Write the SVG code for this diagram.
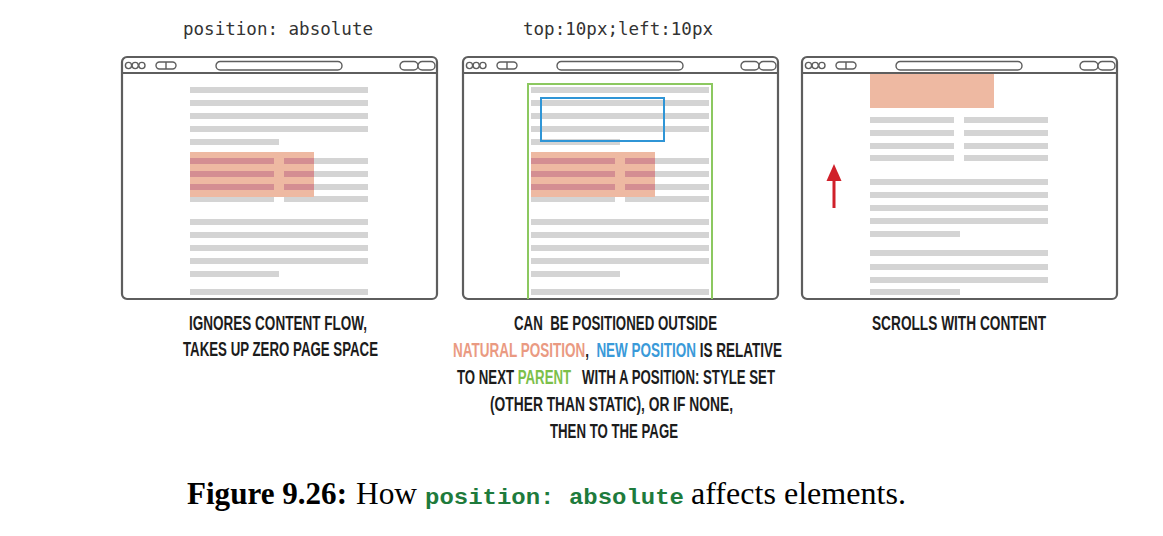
<svg xmlns="http://www.w3.org/2000/svg" xmlns:xlink="http://www.w3.org/1999/xlink" width="1163" height="536" viewBox="0 0 1163 536">
  <style>
    .frame { fill: #ffffff; stroke: #5e5e5e; stroke-width: 2.2; }
    .ctl { fill: #ffffff; stroke: #5e5e5e; stroke-width: 1.4; }
    .bar { stroke: #5e5e5e; stroke-width: 1.8; }
    .ln { fill: #d4d4d4; }
    .hl { fill: #eeb9a2; }
    .ov { fill: #d48e92; }
    .mono { font-family: "DejaVu Sans Mono", "Liberation Mono", monospace; font-size: 17px; fill: #333333; }
    .cap { font-family: "Liberation Sans Narrow", "Liberation Sans", sans-serif; font-weight: bold; font-size: 20px; fill: #1c1c1c; white-space: pre; }
    .natural { fill: #ea9a82; }
    .newpos { fill: #3a9ad9; }
    .parent { fill: #7cc04a; }
    .serif { font-family: "Liberation Serif", serif; font-size: 32px; fill: #000000; }
    .code { font-family: "Liberation Mono", monospace; font-weight: bold; font-size: 22px; fill: #1e7b3c; }
  </style>
  <defs>
    <!-- browser window chrome, 315 x 242 -->
    <g id="chrome">
      <rect class="frame" x="0" y="0" width="315" height="242" rx="5"/>
      <line class="bar" x1="0" y1="16" x2="315" y2="16"/>
      <circle class="ctl" cx="6.5" cy="8.5" r="3.1"/>
      <circle class="ctl" cx="13.2" cy="8.5" r="3.1"/>
      <circle class="ctl" cx="19.9" cy="8.5" r="3.1"/>
      <rect class="ctl" x="34" y="5" width="20" height="7" rx="3.5"/>
      <line class="ctl" x1="44" y1="5" x2="44" y2="12"/>
      <rect class="ctl" x="94" y="4.5" width="126" height="8.5" rx="4.2"/>
      <rect class="ctl" x="278" y="4.5" width="18" height="8.5" rx="4.2"/>
      <rect class="ctl" x="296" y="4.5" width="17" height="8.5" rx="4.2"/>
    </g>
    <!-- page text with an absolutely positioned box over it -->
    <g id="page-flow">
      <rect class="ln" x="68" y="30" width="178" height="6"/>
      <rect class="ln" x="68" y="43" width="178" height="6"/>
      <rect class="ln" x="68" y="56" width="178" height="6"/>
      <rect class="ln" x="68" y="69" width="178" height="6"/>
      <rect class="ln" x="68" y="82" width="89" height="6"/>
      <rect class="ln" x="68" y="101" width="84" height="6"/>
      <rect class="ln" x="162" y="101" width="84" height="6"/>
      <rect class="ln" x="68" y="114" width="84" height="6"/>
      <rect class="ln" x="162" y="114" width="84" height="6"/>
      <rect class="ln" x="68" y="127" width="84" height="6"/>
      <rect class="ln" x="162" y="127" width="84" height="6"/>
      <rect class="ln" x="68" y="139" width="84" height="6"/>
      <rect class="ln" x="162" y="139" width="84" height="6"/>
      <rect class="ln" x="68" y="162" width="178" height="6"/>
      <rect class="ln" x="68" y="175" width="178" height="6"/>
      <rect class="ln" x="68" y="188" width="178" height="6"/>
      <rect class="ln" x="68" y="201" width="178" height="6"/>
      <rect class="ln" x="68" y="214" width="89" height="6"/>
      <rect class="ln" x="68" y="232" width="178" height="6"/>
      <rect class="hl" x="68" y="95" width="124" height="45"/>
      <rect class="ov" x="68" y="101" width="84" height="6"/>
      <rect class="ov" x="162" y="101" width="30" height="6"/>
      <rect class="ov" x="68" y="114" width="84" height="6"/>
      <rect class="ov" x="162" y="114" width="30" height="6"/>
      <rect class="ov" x="68" y="127" width="84" height="6"/>
      <rect class="ov" x="162" y="127" width="30" height="6"/>
    </g>
  </defs>

  <!-- column headings -->
  <text id="label-position" class="mono" x="278" y="35" text-anchor="middle" textLength="190" lengthAdjust="spacingAndGlyphs">position: absolute</text>
  <text id="label-offsets" class="mono" x="618" y="35" text-anchor="middle" textLength="190" lengthAdjust="spacingAndGlyphs">top:10px;left:10px</text>

  <!-- window 1: absolute box ignores flow -->
  <g id="window-flow" transform="translate(122,57)">
    <use xlink:href="#chrome"/>
    <use xlink:href="#page-flow"/>
  </g>

  <!-- window 2: offset relative to positioned parent -->
  <g id="window-parent" transform="translate(463,57)">
    <use xlink:href="#chrome"/>
    <use xlink:href="#page-flow"/>
    <path id="parent-box" d="M65,242 V27 H249 V242" fill="none" stroke="#8cc860" stroke-width="2"/>
    <rect id="new-position" x="78" y="41" width="123" height="43" fill="none" stroke="#2f95d6" stroke-width="2"/>
  </g>

  <!-- window 3: box scrolls with the page -->
  <g id="window-scroll" transform="translate(802,57)">
    <use xlink:href="#chrome"/>
    <rect class="hl" x="68" y="17" width="124" height="34"/>
    <rect class="ln" x="68" y="60" width="84" height="6"/>
    <rect class="ln" x="162" y="60" width="84" height="6"/>
    <rect class="ln" x="68" y="73" width="84" height="6"/>
    <rect class="ln" x="162" y="73" width="84" height="6"/>
    <rect class="ln" x="68" y="86" width="84" height="6"/>
    <rect class="ln" x="162" y="86" width="84" height="6"/>
    <rect class="ln" x="68" y="98" width="84" height="6"/>
    <rect class="ln" x="162" y="98" width="84" height="6"/>
    <rect class="ln" x="68" y="122" width="178" height="6"/>
    <rect class="ln" x="68" y="135" width="178" height="6"/>
    <rect class="ln" x="68" y="148" width="178" height="6"/>
    <rect class="ln" x="68" y="161" width="178" height="6"/>
    <rect class="ln" x="68" y="174" width="90" height="6"/>
    <rect class="ln" x="68" y="193" width="178" height="6"/>
    <rect class="ln" x="68" y="207" width="178" height="6"/>
    <rect class="ln" x="68" y="220" width="178" height="6"/>
    <rect class="ln" x="68" y="232" width="90" height="6"/>
    <!-- scroll direction -->
    <rect x="30.5" y="121" width="3" height="30" fill="#d0202a"/>
    <polygon points="24.5,124 32,107 39.5,124" fill="#d0202a"/>
  </g>

  <!-- captions -->
  <g id="caption-flow">
    <text class="cap" x="189" y="330" textLength="178" lengthAdjust="spacingAndGlyphs">IGNORES CONTENT FLOW,</text>
    <text class="cap" x="183" y="356" textLength="195" lengthAdjust="spacingAndGlyphs">TAKES UP ZERO PAGE SPACE</text>
  </g>
  <g id="caption-parent">
    <text class="cap" x="514" y="330" textLength="203" lengthAdjust="spacingAndGlyphs">CAN  BE POSITIONED OUTSIDE</text>
    <text class="cap" x="453" y="357" textLength="329" lengthAdjust="spacingAndGlyphs"><tspan class="natural">NATURAL POSITION</tspan>,  <tspan class="newpos">NEW POSITION</tspan> IS RELATIVE</text>
    <text class="cap" x="457" y="384" textLength="318" lengthAdjust="spacingAndGlyphs">TO NEXT <tspan class="parent">PARENT</tspan>   WITH A POSITION: STYLE SET</text>
    <text class="cap" x="490" y="411" textLength="243" lengthAdjust="spacingAndGlyphs">(OTHER THAN STATIC), OR IF NONE,</text>
    <text class="cap" x="550" y="438" textLength="128" lengthAdjust="spacingAndGlyphs">THEN TO THE PAGE</text>
  </g>
  <g id="caption-scroll">
    <text class="cap" x="872" y="330" textLength="174" lengthAdjust="spacingAndGlyphs">SCROLLS WITH CONTENT</text>
  </g>

  <!-- figure caption -->
  <g id="figure-caption">
    <text class="serif" x="187" y="504" font-weight="bold" textLength="160" lengthAdjust="spacingAndGlyphs">Figure 9.26:</text>
    <text class="serif" x="356" y="504" textLength="61" lengthAdjust="spacingAndGlyphs">How</text>
    <text class="code" x="425" y="504" textLength="259" lengthAdjust="spacingAndGlyphs">position: absolute</text>
    <text class="serif" x="691" y="504" textLength="215" lengthAdjust="spacingAndGlyphs">affects elements.</text>
  </g>
</svg>
